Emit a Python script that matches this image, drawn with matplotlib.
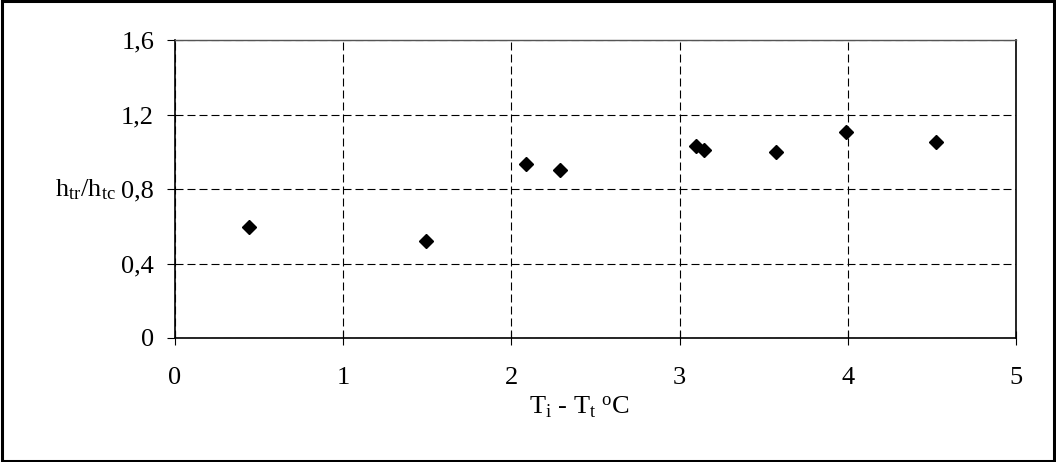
import matplotlib
matplotlib.use("Agg")
import matplotlib.pyplot as plt
from matplotlib.patches import Rectangle

plt.rcParams['font.family'] = ['Liberation Serif', 'DejaVu Serif']
plt.rcParams['mathtext.fontset'] = 'custom'
plt.rcParams['mathtext.rm'] = 'Liberation Serif'
plt.rcParams['mathtext.it'] = 'Liberation Serif'

# Data
dT = [0.44, 1.49, 2.085, 2.29, 3.096, 3.147, 3.575, 3.99, 4.525]
ratio = [0.595, 0.522, 0.934, 0.90, 1.032, 1.009, 0.997, 1.106, 1.052]
xticks = [0, 1, 2, 3, 4, 5]
xtick_labels = ['0', '1', '2', '3', '4', '5']
yticks = [0, 0.4, 0.8, 1.2, 1.6]
ytick_labels = ['0', '0,4', '0,8', '1,2', '1,6']

W, H = 1056, 462
fig = plt.figure(figsize=(W / 100, H / 100), dpi=100)
L, R, T, B = 175, 1016, 40, 338
ax = fig.add_axes([L / W, 1 - B / H, (R - L) / W, (B - T) / H])

ax.plot(dT, ratio, linestyle='none', marker='D', markersize=7.5,
        color='black', zorder=3, clip_on=False)

ax.set_xlim(0, 5)
ax.set_ylim(0, 1.6)
ax.set_xticks(xticks)
ax.set_xticklabels(xtick_labels)
ax.set_yticks(yticks)
ax.set_yticklabels(ytick_labels)

ax.tick_params(axis='x', direction='inout', length=10, width=0.8,
               labelsize=19, pad=16, colors='black')
ax.tick_params(axis='y', direction='out', length=6, width=0.8,
               labelsize=19, pad=9, colors='black')

ax.grid(True, color='black', linewidth=0.8, linestyle=(0, (7.2, 3.6)))
ax.set_axisbelow(True)

for side in ['left', 'bottom', 'right']:
    ax.spines[side].set_color('black')
    ax.spines[side].set_linewidth(1.2)
ax.spines['top'].set_color('#555555')
ax.spines['top'].set_linewidth(1.0)

fig.text(55 / W, 1 - 190 / H, r'h$_\mathrm{tr}$/h$_\mathrm{tc}$', fontsize=19,
         ha='left', va='center')
fig.text(579 / W, 1 - 407 / H, r'T$_\mathrm{i}$ - T$_\mathrm{t}$ $^\mathrm{o}$C',
         fontsize=19, ha='center', va='center')

fig.patches.append(Rectangle((0.0015, 0.003), 0.997, 0.994,
                             transform=fig.transFigure, fill=False,
                             edgecolor='black', linewidth=2.2))

fig.savefig('out.png', dpi=100)
